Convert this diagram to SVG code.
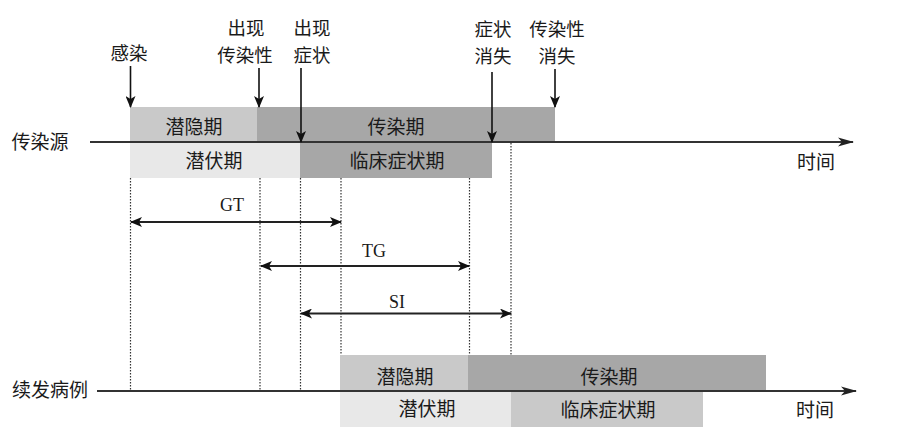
<svg xmlns="http://www.w3.org/2000/svg" width="898" height="448" viewBox="0 0 898 448">
<defs>
<style>
.cjk{font-family:"Noto Sans CJK SC","Noto Sans CJK TC",sans-serif;font-size:19px;fill:#1a1a1a;text-anchor:middle;}
.ev{font-size:18.5px;}
.lat{font-family:"Liberation Serif",serif;font-size:18px;fill:#1a1a1a;text-anchor:middle;}
.axis{stroke:#333;stroke-width:2;fill:none;}
.arr{stroke:#111;stroke-width:1.6;fill:none;}
.dim{stroke:#222;stroke-width:1.8;fill:none;}
.dot{stroke:#333;stroke-width:1.2;stroke-dasharray:1.5,1.5;fill:none;}
.b1{fill:#c9c9c9;}
.b2{fill:#a7a7a7;}
.b3{fill:#e8e8e8;}
</style>
<marker id="ah" markerUnits="userSpaceOnUse" markerWidth="12" markerHeight="10" refX="11" refY="5" orient="auto-start-reverse" viewBox="0 0 12 10">
<path d="M0,0 L12,5 L0,10 L3,5 z" fill="#111"/>
</marker>
<marker id="axh" markerUnits="userSpaceOnUse" markerWidth="16" markerHeight="10" refX="15" refY="5" orient="auto" viewBox="0 0 16 10">
<path d="M0,0.5 L16,5 L0,9.5 L4,5 z" fill="#222"/>
</marker>
</defs>
<rect width="898" height="448" fill="#fff"/>

<g id="source-latent"><rect class="b1" x="130" y="107" width="127" height="35"/><text class="cjk" x="194" y="134">潜隐期</text></g>
<g id="source-infectious"><rect class="b2" x="257" y="107" width="298" height="35"/><text class="cjk" x="396" y="134">传染期</text></g>
<g id="source-incubation"><rect class="b3" x="130" y="142" width="170" height="36"/><text class="cjk" x="214" y="168">潜伏期</text></g>
<g id="source-clinical"><rect class="b2" x="300" y="142" width="192" height="36"/><text class="cjk" x="397" y="168">临床症状期</text></g>

<g id="second-latent"><rect class="b1" x="340" y="355" width="128" height="36"/><text class="cjk" x="405" y="384">潜隐期</text></g>
<g id="second-infectious"><rect class="b2" x="468" y="355" width="298" height="36"/><text class="cjk" x="609" y="384">传染期</text></g>
<g id="second-incubation"><rect class="b3" x="340" y="391" width="171" height="36"/><text class="cjk" x="427" y="416">潜伏期</text></g>
<g id="second-clinical"><rect class="b1" x="511" y="391" width="192" height="36"/><text class="cjk" x="608" y="417">临床症状期</text></g>

<g id="label-source"><text class="cjk" x="40" y="149">传染源</text></g>
<g id="label-secondary"><text class="cjk" x="50" y="397">续发病例</text></g>
<g id="label-time-top"><text class="cjk" x="816" y="169">时间</text></g>
<g id="label-time-bottom"><text class="cjk" x="815" y="417">时间</text></g>

<g id="event-infection"><text class="cjk ev" x="129" y="60">感染</text></g>
<g id="event-infectious-onset"><text class="cjk ev" x="246" y="35">出现<tspan x="245" dy="27">传染性</tspan></text></g>
<g id="event-symptom-onset"><text class="cjk ev" x="312" y="35">出现<tspan x="312" dy="27">症状</tspan></text></g>
<g id="event-symptom-end"><text class="cjk ev" x="493" y="36">症状<tspan x="493" dy="27">消失</tspan></text></g>
<g id="event-infectious-end"><text class="cjk ev" x="557" y="36">传染性<tspan x="557" dy="27">消失</tspan></text></g>

<g id="label-GT"><text class="lat" x="232" y="211">GT</text></g>
<g id="label-TG"><text class="lat" x="374" y="257">TG</text></g>
<g id="label-SI"><text class="lat" x="397" y="308">SI</text></g>

<g id="connectors">
<line class="axis" x1="90" y1="142" x2="853" y2="142" marker-end="url(#axh)"/>
<line class="axis" x1="97" y1="391" x2="856" y2="391" marker-end="url(#axh)"/>

<line class="arr" x1="130.5" y1="66" x2="130.5" y2="107" marker-end="url(#ah)"/>
<line class="arr" x1="259" y1="68" x2="259" y2="107" marker-end="url(#ah)"/>
<line class="arr" x1="301" y1="68" x2="301" y2="142" marker-end="url(#ah)"/>
<line class="arr" x1="492" y1="72" x2="492" y2="142" marker-end="url(#ah)"/>
<line class="arr" x1="555" y1="69" x2="555" y2="107" marker-end="url(#ah)"/>

<line class="dot" x1="130.5" y1="178" x2="130.5" y2="391"/>
<line class="dot" x1="260" y1="178" x2="260" y2="391"/>
<line class="dot" x1="300.5" y1="178" x2="300.5" y2="391"/>
<line class="dot" x1="341" y1="178" x2="341" y2="355"/>
<line class="dot" x1="469.5" y1="178" x2="469.5" y2="355"/>
<line class="dot" x1="511" y1="143" x2="511" y2="355"/>

<line class="dim" x1="131" y1="222" x2="341" y2="222" marker-start="url(#ah)" marker-end="url(#ah)"/>
<line class="dim" x1="261" y1="266" x2="469" y2="266" marker-start="url(#ah)" marker-end="url(#ah)"/>
<line class="dim" x1="301" y1="313.5" x2="511" y2="313.5" marker-start="url(#ah)" marker-end="url(#ah)"/>
</g>
</svg>
